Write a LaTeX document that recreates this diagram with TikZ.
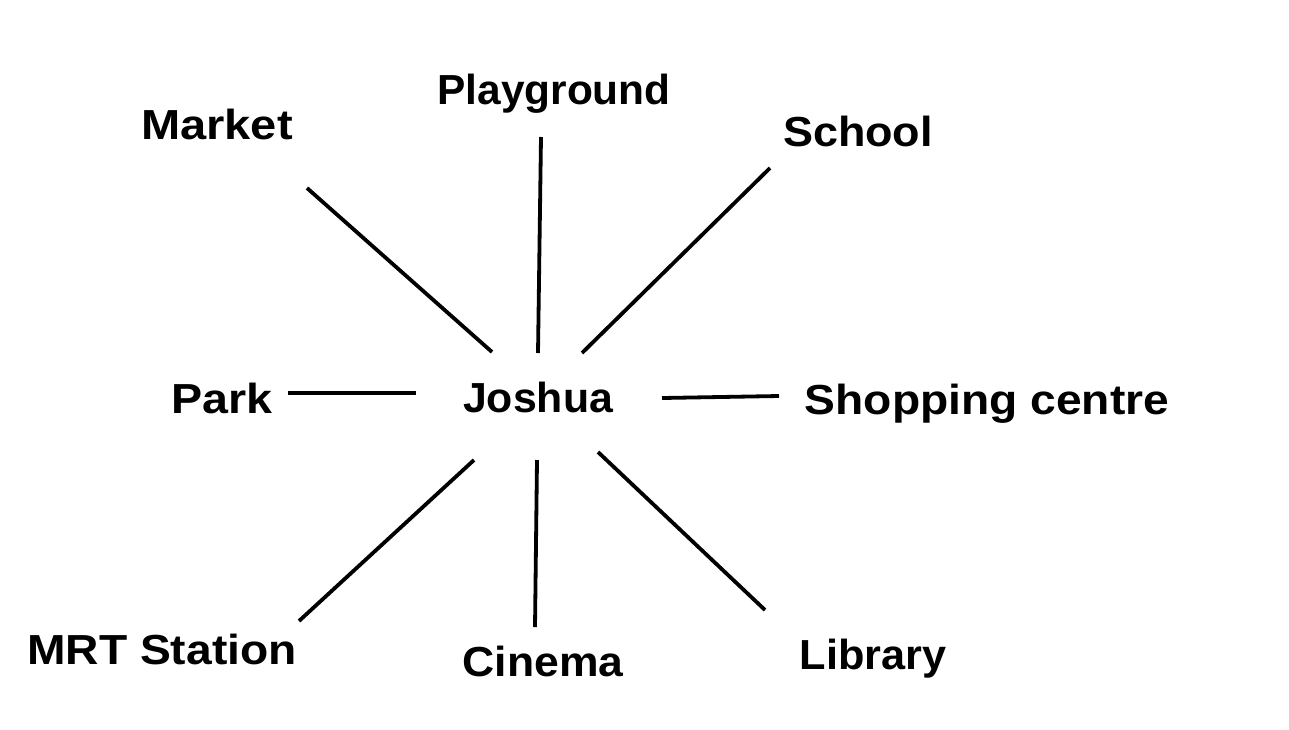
\documentclass[tikz,border=0pt]{standalone}
\usepackage{fontspec}
\setmainfont{Liberation Sans}
\begin{document}
\begin{tikzpicture}[x=1pt,y=-1pt,
  lbl/.style={font=\fontsize{42}{46}\selectfont\bfseries, inner sep=0pt, anchor=base},
  conn/.style={line width=3.8pt, black}]
\useasboundingbox (0,0) rectangle (1289,729);
\fill[white] (0,0) rectangle (1289,729);
\node[lbl, xscale=1.01] (playground) at (554,104) {Playground};
\node[lbl, xscale=1.12] (market) at (217,139) {Market};
\node[lbl, xscale=1.07] (school) at (858,146) {School};
\node[lbl, xscale=1.11] (park) at (222,413) {Park};
\node[lbl, xscale=1.02] (joshua) at (538,412) {Joshua};
\node[lbl, xscale=1.10] (shopping) at (987,414) {Shopping centre};
\node[lbl, xscale=1.10] (mrt) at (162,664) {MRT Station};
\node[lbl, xscale=1.06] (cinema) at (543,676) {Cinema};
\node[lbl, xscale=1.03] (library) at (873,669) {Library};
% connector end points
\coordinate (mk1) at (307,188); \coordinate (mk2) at (492,352);
\coordinate (pg1) at (541,137); \coordinate (pg2) at (538,353);
\coordinate (sc1) at (770,168); \coordinate (sc2) at (582,353);
\coordinate (pk1) at (288,393); \coordinate (pk2) at (416,393);
\coordinate (sh1) at (779,396); \coordinate (sh2) at (662,398);
\coordinate (mr1) at (299,621); \coordinate (mr2) at (474,460);
\coordinate (ci1) at (535,627); \coordinate (ci2) at (537,460);
\coordinate (li1) at (765,610); \coordinate (li2) at (598,452);
\draw[conn] (mk1) -- (mk2);
\draw[conn] (pg1) -- (pg2);
\draw[conn] (sc1) -- (sc2);
\draw[conn] (pk1) -- (pk2);
\draw[conn] (sh1) -- (sh2);
\draw[conn] (mr1) -- (mr2);
\draw[conn] (ci1) -- (ci2);
\draw[conn] (li1) -- (li2);
\end{tikzpicture}
\end{document}
